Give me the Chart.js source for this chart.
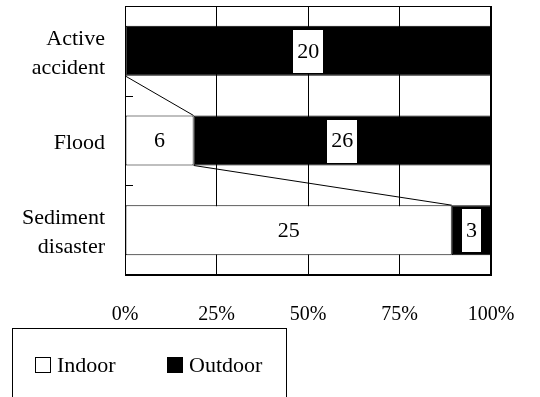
<!DOCTYPE html>
<html>
<head>
<meta charset="utf-8">
<script src="https://cdn.jsdelivr.net/npm/chart.js@4/dist/chart.umd.min.js"></script>
<style>
    html, body { margin: 0; padding: 0; background: #fff; }
    #wrap { position: relative; width: 540px; height: 397px; overflow: hidden; }
    #legend {
        position: absolute; left: 12px; top: 328px; width: 275px; height: 90px;
        border: 1px solid #000; box-sizing: border-box;
        font-family: "Liberation Serif", "Times New Roman", serif; font-size: 22px; color: #000;
    }
    #legend .item { position: absolute; top: 24px; line-height: 24px; white-space: nowrap; }
    #legend .box { display: inline-block; width: 14px; height: 14px; border: 1px solid #000; margin-right: 6px; vertical-align: -1px; }
</style>
</head>
<body>
<div id="wrap">
    <canvas id="chart" width="540" height="397"></canvas>
    <div id="legend"></div>
</div>
<script>
const categories = [['Active', 'accident'], 'Flood', ['Sediment', 'disaster']];
const seriesNames = ['Indoor', 'Outdoor'];
const indoorCounts = [0, 6, 25];
const outdoorCounts = [20, 26, 3];
const tickLabels = ['0%', '25%', '50%', '75%', '100%'];

const FONT = '"Liberation Serif", "Times New Roman", serif';

// 100% 누적 막대용 비율 계산
const totals = indoorCounts.map((v, i) => v + outdoorCounts[i]);
const indoorPct = indoorCounts.map((v, i) => v * 100 / totals[i]);
const outdoorPct = outdoorCounts.map((v, i) => v * 100 / totals[i]);

const overlayPlugin = {
    id: 'overlay',
    afterDatasetsDraw(chart) {
        const ctx = chart.ctx;
        const area = chart.chartArea;
        const yScale = chart.scales.y;
        const metaIn = chart.getDatasetMeta(0);
        const metaOut = chart.getDatasetMeta(1);
        const counts = [indoorCounts, outdoorCounts];

        ctx.save();
        ctx.strokeStyle = '#000';
        ctx.lineWidth = 1;

        // series lines (경계 연결선)
        for (let i = 0; i < categories.length - 1; i++) {
            const a = metaIn.data[i];
            const b = metaIn.data[i + 1];
            ctx.beginPath();
            ctx.moveTo(a.x, a.y + a.height / 2);
            ctx.lineTo(b.x, b.y - b.height / 2);
            ctx.stroke();
        }

        // 축 안쪽 눈금
        for (let i = 0; i < categories.length - 1; i++) {
            const y = Math.round((yScale.getPixelForValue(i) + yScale.getPixelForValue(i + 1)) / 2) + 0.5;
            ctx.beginPath();
            ctx.moveTo(area.left, y);
            ctx.lineTo(area.left + 8, y);
            ctx.stroke();
        }

        // 플롯 테두리
        ctx.strokeRect(Math.round(area.left) + 0.5, Math.round(area.top) + 0.5,
            Math.round(area.right - area.left) - 1, Math.round(area.bottom - area.top) - 1);

        // 값 라벨
        ctx.font = '22px ' + FONT;
        ctx.textAlign = 'center';
        ctx.textBaseline = 'middle';
        [metaIn, metaOut].forEach((meta, d) => {
            meta.data.forEach((bar, i) => {
                const val = counts[d][i];
                if (!val) return;
                const cx = (bar.x + bar.base) / 2;
                const cy = bar.y;
                if (d === 1) {
                    const w = ctx.measureText(String(val)).width + 8;
                    ctx.fillStyle = '#fff';
                    ctx.fillRect(Math.round(cx - w / 2), Math.round(cy - 21), Math.round(w), 43);
                }
                ctx.fillStyle = '#000';
                ctx.fillText(String(val), cx, cy + 1);
            });
        });
        ctx.restore();
    }
};

const chart = new Chart(document.getElementById('chart'), {
    type: 'bar',
    data: {
        labels: categories,
        datasets: [
            {
                label: seriesNames[0],
                data: indoorPct,
                backgroundColor: '#fff',
                borderColor: '#000',
                borderWidth: 1,
                borderSkipped: false
            },
            {
                label: seriesNames[1],
                data: outdoorPct,
                backgroundColor: '#000',
                borderColor: '#000',
                borderWidth: 1,
                borderSkipped: false
            }
        ]
    },
    options: {
        indexAxis: 'y',
        responsive: false,
        animation: false,
        events: [],
        layout: { padding: { top: 6, right: 49, left: 0, bottom: 0 } },
        datasets: { bar: { barPercentage: 0.557, categoryPercentage: 1 } },
        plugins: {
            legend: { display: false },
            tooltip: { enabled: false }
        },
        scales: {
            x: {
                stacked: true,
                min: 0,
                max: 100,
                afterFit: s => { s.height = 122; s.paddingLeft = 0; s.paddingRight = 0; },
                ticks: {
                    stepSize: 25,
                    padding: 28,
                    color: '#000',
                    font: { family: FONT, size: 20 },
                    callback: (v, i) => tickLabels[i]
                },
                grid: { color: '#000', lineWidth: 1, drawTicks: false },
                border: { display: true, color: '#000', width: 1 }
            },
            y: {
                stacked: true,
                afterFit: s => { s.width = 125; s.paddingTop = 0; s.paddingBottom = 0; },
                ticks: {
                    padding: 20,
                    labelOffset: 3,
                    color: '#000',
                    font: { family: FONT, size: 22, lineHeight: 1.32 }
                },
                grid: { display: false, drawTicks: false },
                border: { display: true, color: '#000', width: 1 }
            }
        }
    },
    plugins: [overlayPlugin]
});

// 범례 (HTML)
const legendEl = document.getElementById('legend');
chart.data.datasets.forEach((ds, i) => {
    const item = document.createElement('span');
    item.className = 'item';
    item.style.left = (i === 0 ? 22 : 154) + 'px';
    item.innerHTML = `<span class="box" style="background:${ds.backgroundColor}"></span>${ds.label}`;
    legendEl.appendChild(item);
});
</script>
</body>
</html>
